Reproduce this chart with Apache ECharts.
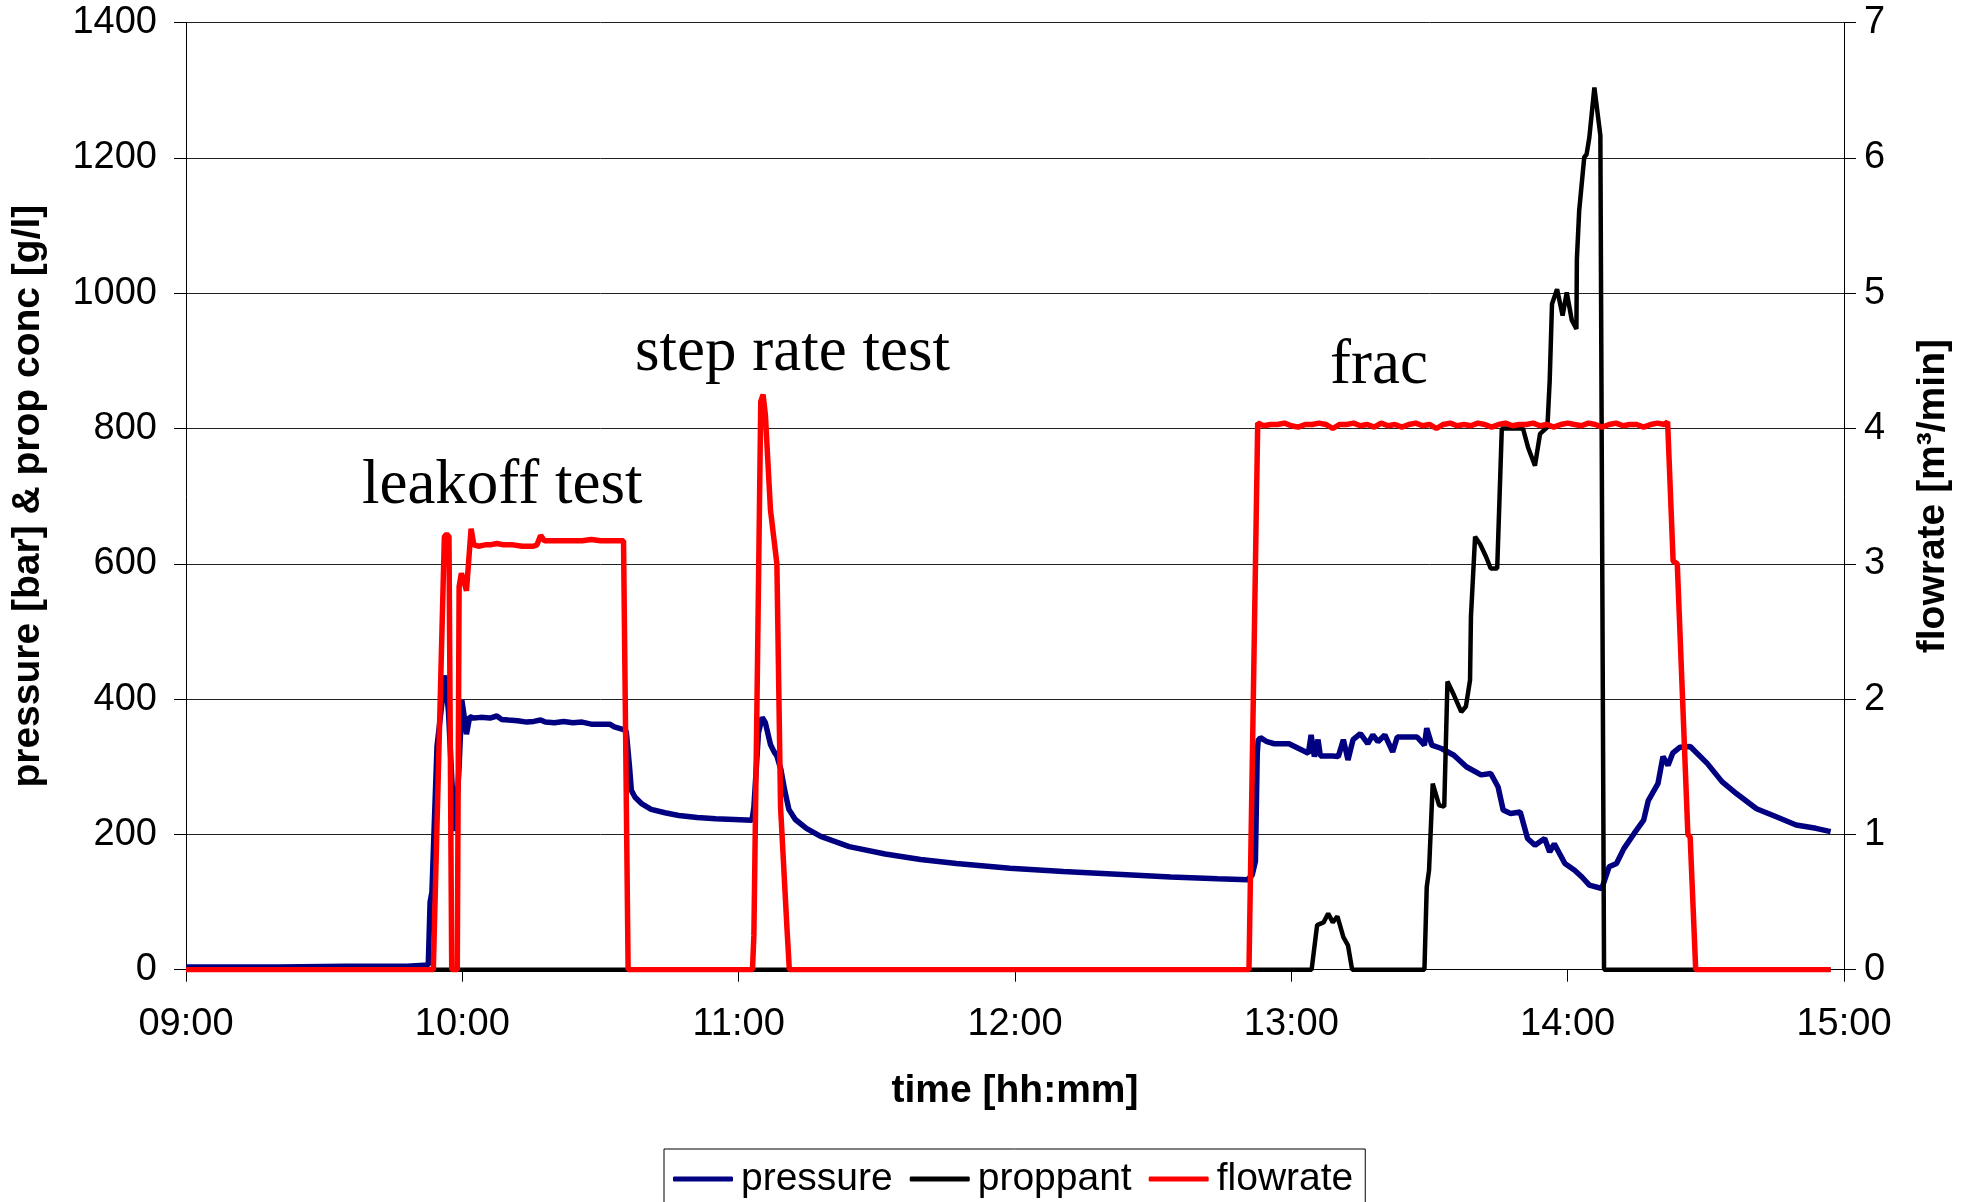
<!DOCTYPE html>
<html>
<head>
<meta charset="utf-8">
<script src="https://cdn.jsdelivr.net/npm/echarts@6/dist/echarts.min.js"></script>
<style>
html,body{margin:0;padding:0;background:#fff;}
#chart{width:1972px;height:1202px;}
</style>
</head>
<body>
<div id="chart"></div>
<script>
// time in minutes since midnight
const xTicks = [540, 600, 660, 720, 780, 840, 900];

const pressure = [
[540,4],[560,4],[575,5],[588,5],[592.6,7],[593.0,100],[593.4,115],[594.5,330],[595.5,390],[596.3,435],
[597.0,380],[597.8,270],[598.5,205],[599.3,300],[599.9,398],[600.5,370],[600.9,348],[601.6,374],[602.5,372],
[604,373],[606,372],[607.5,375],[608.5,370],[610,369],[612,368],[614,366],[615.5,367],[617,369],[618,366],
[620,365],[622,367],[624,365],[626,366],[628,363],[630,363],[632,363],[633,359],[635,355],[635.6,352],
[636.3,300],[636.7,265],[637.5,255],[639,245],[641,237],[644,232],[647,228],[651,225],[655,223],[659,222],
[662.9,221],[663.3,240],[664.3,350],[665.1,373],[665.8,365],[666.9,333],[667.7,322],[668.3,316],[669.2,295],
[670.0,265],[670.9,237],[672.3,222],[674.7,209],[677.8,197],[684,182],[691.8,171],[699.5,163],[707.3,157],
[718.9,150],[730.5,145],[742.2,141],[753.8,137],[764,134.5],[770.5,133],[771.5,140],[772.2,160],[772.6,320],
[772.8,339],[773.3,343],[774.7,337],[776.3,334],[779.5,334],[781.6,327],[783.7,320],[784.3,347],[785.0,315],
[785.8,340],[786.3,316],[789.0,316],[790.2,315],[791.3,340],[792.3,310],[793.4,340],[795.0,349],[796.6,334],
[797.7,347],[798.8,337],[800.3,347],[802.0,322],[803.0,344],[807.3,344],[808.9,332],[809.4,357],[810.5,332],
[812.6,327],[815.3,317],[818.0,300],[821.2,288],[823.3,290],[824.9,270],[826.0,236],[827.6,231],[829.7,233],
[831.3,194],[832.9,184],[835.0,194],[836.1,174],[837.1,186],[839.4,157],[841.5,147],[843.1,137],[844.7,125],
[847.4,120],[849.0,152],[850.6,157],[852.2,179],[854.4,201],[856.5,221],[857.5,250],[859.6,275],[860.7,315],
[861.8,302],[862.8,320],[864.4,329],[866.6,330],[870.3,305],[873.5,278],[876.7,260],[881.0,238],[885.3,226],
[889.6,214],[893.9,209],[897.1,204]
];

const proppant = [
[540,0],[784.4,0],[785.6,66],[787.0,70],[788.0,83],[789.0,70],[790.0,79],[791.3,48],[792.3,36],[793.2,0],
[808.9,0],[809.4,122],[809.9,147],[810.7,275],[812.1,243],[813.2,241],[813.9,426],[815.3,406],[816.9,381],
[817.9,389],[818.8,428],[819.0,522],[819.9,640],[821.0,629],[822.3,610],[823.3,593],[824.7,593],[825.7,800],
[830.3,800],[831.4,772],[832.9,745],[834.0,792],[835.6,802],[836.1,871],[836.6,984],[837.7,1006],[838.9,967],
[839.8,1001],[840.9,960],[841.9,947],[842.0,1050],[842.5,1122],[843.6,1201],[844.1,1205],[844.7,1230],
[845.8,1304],[847.1,1233],[847.9,0],[897.1,0]
];

const flowrate = [
[540,0],[593.7,0],[596.1,3.2],[596.6,3.22],[597.1,3.2],[597.7,0],[598.9,0],[599.3,2.83],[599.8,2.93],
[600.5,2.85],[600.9,2.8],[601.9,3.26],[602.5,3.14],[603.5,3.13],[605,3.14],[606,3.14],[607.5,3.15],[609,3.14],
[611,3.14],[613,3.13],[615.4,3.13],[616.2,3.14],[617.0,3.21],[617.8,3.17],[620,3.17],[623,3.17],[626,3.17],
[628,3.18],[630,3.17],[632,3.17],[635.0,3.17],[636.0,0],[663.0,0],[663.3,0.25],[664.1,2.3],[664.8,4.2],
[665.3,4.25],[665.8,4.1],[666.9,3.4],[668.3,3.0],[669.1,1.2],[670.5,0.3],[671.0,0],[770.8,0],
[772.7,4.04],[774,4.02],[775.5,4.03],[777,4.03],[778.5,4.04],[780,4.02],[781.5,4.01],[783,4.03],[784.5,4.03],
[786,4.04],[787.5,4.03],[789,4.00],[790.5,4.03],[792,4.03],[793.5,4.04],[795,4.02],[796.5,4.03],[798,4.01],
[799.5,4.04],[801,4.02],[802.5,4.03],[804,4.01],[805.5,4.03],[807,4.04],[808.5,4.02],[810,4.03],[811.5,4.00],
[813,4.03],[814.5,4.04],[816,4.02],[817.5,4.03],[819,4.02],[820.5,4.04],[822,4.03],[823.5,4.01],[825,4.03],
[826.5,4.04],[828,4.02],[829.5,4.03],[831,4.03],[832.5,4.04],[834,4.02],[835.5,4.03],[837,4.01],[838.5,4.03],
[840,4.04],[841.5,4.03],[843,4.02],[844.5,4.04],[846,4.03],[847.5,4.01],[849,4.03],[850.5,4.04],[852,4.02],
[853.5,4.03],[855,4.03],[856.5,4.01],[858,4.03],[859.5,4.04],[861,4.03],[861.7,4.05],
[862.9,3.02],[863.8,3.0],[866.1,1.0],[866.6,0.98],[867.8,0],[897.1,0]
];

const annotationText = ['leakoff test', 'step rate test', 'frac'];
const annotationTime = [578.2, 637.5, 788.4];
const annotationValue = [684, 880, 861];

const SANS = '"Liberation Sans", Arial, sans-serif';
const SERIF = '"Liberation Serif", "Times New Roman", serif';

function hhmm(v) {
  const h = Math.floor(v / 60), m = Math.round(v % 60);
  return (h < 10 ? '0' : '') + h + ':' + (m < 10 ? '0' : '') + m;
}

const chart = echarts.init(document.getElementById('chart'), null, {renderer: 'canvas'});
const axisLineStyle = {color: '#000', width: 1};
chart.setOption({
  animation: false,
  backgroundColor: '#fff',
  grid: {left: 186, right: 128, top: 22.6, bottom: 232.3, containLabel: false},
  legend: {
    data: ['pressure', 'proppant', 'flowrate'],
    left: 664, top: 1149,
    orient: 'horizontal',
    icon: 'roundRect',
    itemWidth: 60, itemHeight: 5, itemGap: 17,
    padding: [10, 12, 20, 9],
    borderColor: '#000', borderWidth: 1,
    textStyle: {fontFamily: SANS, fontSize: 39, color: '#000', lineHeight: 40, padding: [0, 0, 0, 3]}
  },
  xAxis: {
    type: 'value', min: 540, max: 900, interval: 60,
    name: 'time [hh:mm]', nameLocation: 'middle', nameGap: 102,
    nameTextStyle: {fontFamily: SANS, fontSize: 39, fontWeight: 'bold', color: '#000'},
    axisLine: {show: true, onZero: false, lineStyle: axisLineStyle},
    axisTick: {show: true, inside: false, length: 12, lineStyle: axisLineStyle},
    axisLabel: {fontFamily: SANS, fontSize: 38, color: '#000', margin: 36, formatter: v => hhmm(v),
      customValues: xTicks},
    splitLine: {show: false}
  },
  yAxis: [
    {
      type: 'value', min: 0, max: 1400, interval: 200, position: 'left',
      name: 'pressure [bar] & prop conc [g/l]', nameLocation: 'middle', nameGap: 138, nameRotate: 90,
      nameTextStyle: {fontFamily: SANS, fontSize: 39, fontWeight: 'bold', color: '#000'},
      axisLine: {show: true, lineStyle: axisLineStyle},
      axisTick: {show: true, inside: false, length: 12, lineStyle: axisLineStyle},
      axisLabel: {fontFamily: SANS, fontSize: 38, color: '#000', margin: 29, formatter: v => String(v)},
      splitLine: {show: true, lineStyle: {color: '#222', width: 1}}
    },
    {
      type: 'value', min: 0, max: 7, interval: 1, position: 'right',
      name: 'flowrate [m³/min]', nameLocation: 'middle', nameGap: 70, nameRotate: 90,
      nameTextStyle: {fontFamily: SANS, fontSize: 39, fontWeight: 'bold', color: '#000'},
      axisLine: {show: true, lineStyle: axisLineStyle},
      axisTick: {show: true, inside: false, length: 12, lineStyle: axisLineStyle},
      axisLabel: {fontFamily: SANS, fontSize: 38, color: '#000', margin: 20, formatter: v => String(v)},
      splitLine: {show: false}
    }
  ],
  series: [
    {name: 'pressure', type: 'line', yAxisIndex: 0, data: pressure, symbol: 'none', showSymbol: false,
      itemStyle: {color: '#000080'}, lineStyle: {color: '#000080', width: 5.5}, z: 2},
    {name: 'proppant', type: 'line', yAxisIndex: 0, data: proppant, symbol: 'none', showSymbol: false,
      itemStyle: {color: '#000000'}, lineStyle: {color: '#000000', width: 4.5}, z: 3},
    {name: 'flowrate', type: 'line', yAxisIndex: 1, data: flowrate, symbol: 'none', showSymbol: false,
      itemStyle: {color: '#ff0000'}, lineStyle: {color: '#ff0000', width: 5.5}, z: 4}
  ]
});

// annotation texts, placed through the chart's own scales
const graphics = annotationText.map((t, i) => {
  const p = chart.convertToPixel({xAxisIndex: 0, yAxisIndex: 0}, [annotationTime[i], annotationValue[i]]);
  return {
    type: 'text', x: p[0], y: p[1] - 21, z: 10,
    style: {text: t, font: '63px ' + SERIF, fill: '#000', align: 'left', verticalAlign: 'middle'}
  };
});
chart.setOption({graphic: graphics});
</script>
</body>
</html>
